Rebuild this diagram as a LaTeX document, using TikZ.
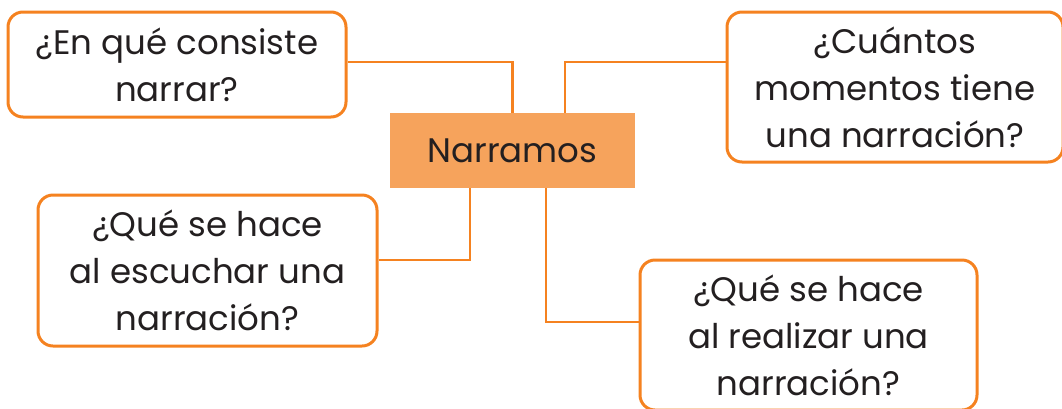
\documentclass[tikz,border=0pt]{standalone}
\usepackage{fontspec}
\setmainfont{Poppins}
\usetikzlibrary{calc}
\definecolor{borde}{HTML}{F58220}
\definecolor{relleno}{HTML}{F6A35C}
\definecolor{texto}{HTML}{231F20}
\tikzset{
  qbox/.style={draw=borde, line width=3pt, rounded corners=15pt, fill=white,
    align=center, text=texto, font=\fontsize{34}{47}\selectfont, inner sep=0pt},
  mainbox/.style={fill=relleno, draw=none, text=texto, font=\fontsize{34}{40}\selectfont,
    minimum width=245pt, minimum height=75pt, inner sep=0pt},
  conn/.style={draw=borde, line width=2.5pt}
}
\begin{document}
\begin{tikzpicture}[x=1pt,y=-1pt]
\useasboundingbox (0,0) rectangle (1062,408);
\node[mainbox] (N) at (512.5,150.5) {Narramos};
\node[qbox, minimum width=338pt, minimum height=105pt] (A) at (177,64.5) {¿En qué consiste\\narrar?};
\node[qbox, minimum width=336pt, minimum height=150pt] (B) at (895,87) {¿Cuántos\\momentos tiene\\una narración?};
\node[qbox, minimum width=339pt, minimum height=151pt] (C) at (207.5,270.5) {¿Qué se hace\\al escuchar una\\narración?};
\node[qbox, minimum width=337pt, minimum height=150pt] (D) at (808.5,335) {¿Qué se hace\\al realizar una\\narración?};
\draw[conn] ([yshift=2.5pt]A.east) -| (N.north);
\draw[conn] ([yshift=25pt]B.west) -| ([xshift=52.5pt]N.north);
\draw[conn] ([yshift=10.5pt]C.east) -| ([xshift=-42.5pt]N.south);
\draw[conn] ([yshift=13pt]D.west) -| ([xshift=33.5pt]N.south);
\end{tikzpicture}
\end{document}
